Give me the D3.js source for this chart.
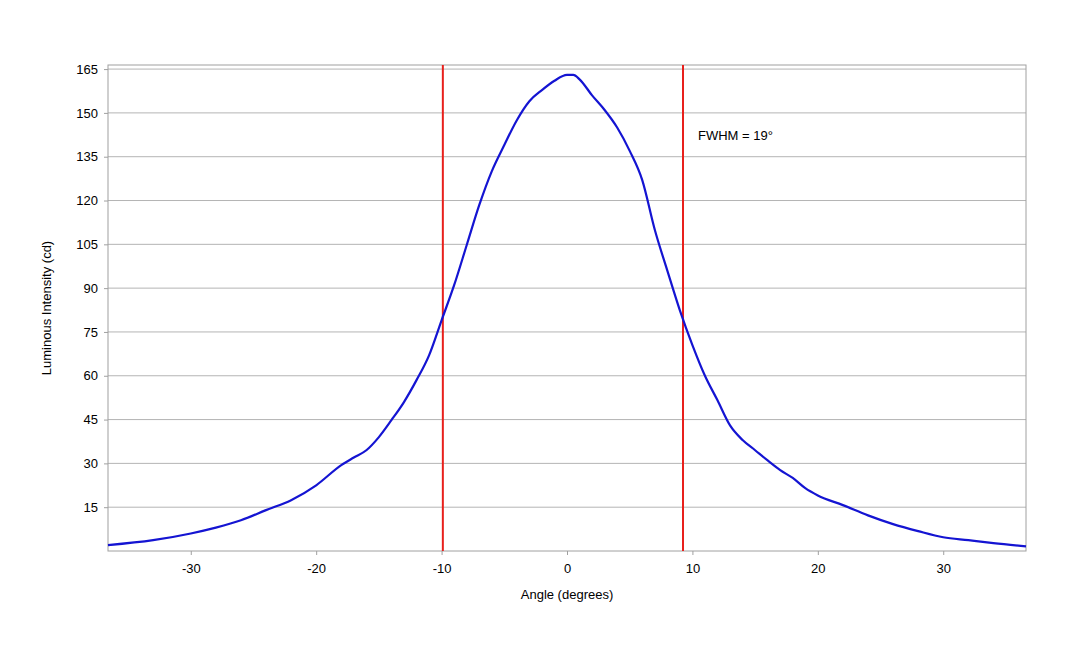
<!DOCTYPE html>
<html><head><meta charset="utf-8">
<script src="https://cdn.jsdelivr.net/npm/d3@7"></script>
<style>body{margin:0;background:#fff}text{font-family:"Liberation Sans",Arial,sans-serif}</style>
</head><body><svg id="chart" width="1080" height="648"></svg>
<script>
const angles = [-36.6,-33,-30,-28,-26,-24,-22,-20,-18,-17,-16,-15,-14,-13,-12,-11,-10,-9,-8,-7,-6,-5,-4,-3,-2,-1,0,0.5,1,2,3,4,5,6,7,8,9,10,11,12,13,14,15,16,17,18,19,20,22,24,26,28,30,32,34,36.6];
const intensity = [2,3.7,6,8,10.5,14,17.4,22.5,29.4,32,34.5,39,44.8,51,58.5,67,79,91,104.7,118.4,130,139,147.5,154,157.8,161,163,163,161.5,156,151,145,137,127,110,96,82.4,70.5,60,51.6,43,38,34.5,31,27.7,25,21.5,19,15.7,12.2,9.2,6.8,4.7,3.7,2.7,1.6];
const yTicks = [15,30,45,60,75,90,105,120,135,150,165];
const xTicks = [-30,-20,-10,0,10,20,30];
const fwhmLines = [-9.9, 9.25];

const svg = d3.select("#chart");
const m = {l:108, r:1026, t:65, b:551};
const x = d3.scaleLinear().domain([-36.6,36.6]).range([m.l,m.r]);
const y = d3.scaleLinear().domain([0,166.4]).range([m.b,m.t]);

svg.append("g").selectAll("line").data(yTicks).join("line")
  .attr("x1",m.l).attr("x2",m.r).attr("y1",d=>y(d)).attr("y2",d=>y(d))
  .attr("stroke","#b4b4b4").attr("stroke-width",1);
svg.append("rect").attr("x",m.l).attr("y",m.t).attr("width",m.r-m.l).attr("height",m.b-m.t)
  .attr("fill","none").attr("stroke","#a0a0a0");

const yAxis = svg.append("g").attr("transform",`translate(${m.l},0)`)
  .call(d3.axisLeft(y).tickValues(yTicks).tickFormat(d=>String(d)).tickSize(4).tickPadding(6));
const xAxis = svg.append("g").attr("transform",`translate(0,${m.b})`)
  .call(d3.axisBottom(x).tickValues(xTicks).tickFormat(d=>String(d)).tickSize(4).tickPadding(9));
[xAxis,yAxis].forEach(a=>{
  a.select(".domain").remove();
  a.selectAll("line").attr("stroke","#a0a0a0");
  a.selectAll("text").attr("font-size",13).attr("fill","#000").attr("font-family","Liberation Sans, Arial, sans-serif");
});

svg.append("g").selectAll("line").data(fwhmLines).join("line")
  .attr("x1",d=>x(d)).attr("x2",d=>x(d)).attr("y1",m.t).attr("y2",m.b)
  .attr("stroke","#e8201c").attr("stroke-width",2);

const pts = angles.map((a,i)=>[a,intensity[i]]);
svg.append("path").datum(pts)
  .attr("d",d3.line().x(d=>x(d[0])).y(d=>y(d[1])).curve(d3.curveMonotoneX))
  .attr("fill","none").attr("stroke","#1414d2").attr("stroke-width",2.2);

svg.append("text").attr("x",698).attr("y",140).attr("font-size",13).text("FWHM = 19°");
svg.append("text").attr("x",(m.l+m.r)/2).attr("y",599).attr("text-anchor","middle").attr("font-size",13).text("Angle (degrees)");
svg.append("text").attr("transform",`translate(51,${(m.t+m.b)/2}) rotate(-90)`).attr("text-anchor","middle").attr("font-size",13).text("Luminous Intensity (cd)");
</script></body></html>
